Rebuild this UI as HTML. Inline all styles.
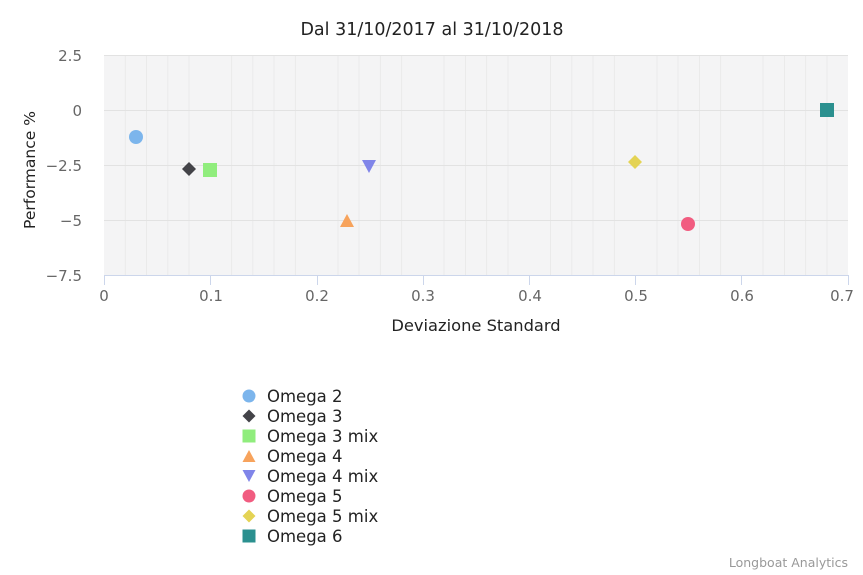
<!DOCTYPE html>
<html><head><style>body{margin:0;background:#fff}svg{display:block}text{font-family:"DejaVu Sans","Liberation Sans",sans-serif}</style></head><body>
<svg width="863" height="575" xmlns="http://www.w3.org/2000/svg">
<rect x="104" y="55" width="744" height="220" fill="#f4f4f5"/>
<g stroke="#eaeaea" stroke-width="1">
<line x1="125.3" y1="55" x2="125.3" y2="275"/><line x1="146.5" y1="55" x2="146.5" y2="275"/><line x1="167.8" y1="55" x2="167.8" y2="275"/><line x1="189" y1="55" x2="189" y2="275"/>
<line x1="231.6" y1="55" x2="231.6" y2="275"/><line x1="252.8" y1="55" x2="252.8" y2="275"/><line x1="274" y1="55" x2="274" y2="275"/><line x1="295.4" y1="55" x2="295.4" y2="275"/>
<line x1="338" y1="55" x2="338" y2="275"/><line x1="359" y1="55" x2="359" y2="275"/><line x1="380.4" y1="55" x2="380.4" y2="275"/><line x1="401.6" y1="55" x2="401.6" y2="275"/>
<line x1="444" y1="55" x2="444" y2="275"/><line x1="465.5" y1="55" x2="465.5" y2="275"/><line x1="486.6" y1="55" x2="486.6" y2="275"/><line x1="508" y1="55" x2="508" y2="275"/>
<line x1="550.5" y1="55" x2="550.5" y2="275"/><line x1="571.8" y1="55" x2="571.8" y2="275"/><line x1="593" y1="55" x2="593" y2="275"/><line x1="614.4" y1="55" x2="614.4" y2="275"/>
<line x1="657" y1="55" x2="657" y2="275"/><line x1="678" y1="55" x2="678" y2="275"/><line x1="699.5" y1="55" x2="699.5" y2="275"/><line x1="720.6" y1="55" x2="720.6" y2="275"/>
<line x1="763" y1="55" x2="763" y2="275"/><line x1="784.5" y1="55" x2="784.5" y2="275"/><line x1="805.6" y1="55" x2="805.6" y2="275"/><line x1="827" y1="55" x2="827" y2="275"/>
</g>
<g stroke="#e2e2e2" stroke-width="1">
<line x1="104" y1="55.5" x2="848" y2="55.5"/><line x1="104" y1="110.5" x2="848" y2="110.5"/><line x1="104" y1="165.5" x2="848" y2="165.5"/><line x1="104" y1="220.5" x2="848" y2="220.5"/>
</g>
<g stroke="#ccd6eb" stroke-width="1">
<line x1="104" y1="275.5" x2="848" y2="275.5"/>
<line x1="104.5" y1="275" x2="104.5" y2="285"/><line x1="210.5" y1="275" x2="210.5" y2="285"/><line x1="317.5" y1="275" x2="317.5" y2="285"/><line x1="423.5" y1="275" x2="423.5" y2="285"/><line x1="529.5" y1="275" x2="529.5" y2="285"/><line x1="635.5" y1="275" x2="635.5" y2="285"/><line x1="741.5" y1="275" x2="741.5" y2="285"/><line x1="848.5" y1="275" x2="848.5" y2="285"/>
</g>
<g fill="#666" font-size="15" text-anchor="middle">
<text x="104" y="301">0</text><text x="211" y="301">0.1</text><text x="317" y="301">0.2</text><text x="423" y="301">0.3</text><text x="530" y="301">0.4</text><text x="636" y="301">0.5</text><text x="742" y="301">0.6</text><text x="842" y="301">0.7</text>
</g>
<g fill="#666" font-size="15" text-anchor="end">
<text x="82" y="61">2.5</text><text x="82" y="116">0</text><text x="82" y="171">−2.5</text><text x="82" y="226">−5</text><text x="82" y="281">−7.5</text>
</g>
<text x="432" y="35" font-size="17.5" text-anchor="middle" fill="#222">Dal 31/10/2017 al 31/10/2018</text>
<text x="476" y="331" font-size="16.3" text-anchor="middle" fill="#222">Deviazione Standard</text>
<text transform="translate(35,170) rotate(-90)" font-size="15.5" text-anchor="middle" fill="#222">Performance %</text>
<circle cx="136" cy="137" r="7" fill="#7cb5ec"/>
<path d="M189 162 L196 169 L189 176 L182 169Z" fill="#434348"/>
<rect x="203" y="163" width="14" height="14" fill="#90ed7d"/>
<path d="M347 214 L354 227 L340 227Z" fill="#f7a35c"/>
<path d="M362 160 L376 160 L369 173Z" fill="#8085e9"/>
<circle cx="688" cy="224" r="7" fill="#f15c80"/>
<path d="M635 155 L642 162 L635 169 L628 162Z" fill="#e4d354"/>
<rect x="820" y="103" width="14" height="14" fill="#2b908f"/>
<g font-size="16.5" fill="#222">
<circle cx="249" cy="396" r="6.5" fill="#7cb5ec"/><text x="267" y="402">Omega 2</text>
<path d="M249 409.5 L255.5 416 L249 422.5 L242.5 416Z" fill="#434348"/><text x="267" y="422">Omega 3</text>
<rect x="242.5" y="429.5" width="13" height="13" fill="#90ed7d"/><text x="267" y="442">Omega 3 mix</text>
<path d="M249 450 L255.5 462 L242.5 462Z" fill="#f7a35c"/><text x="267" y="462">Omega 4</text>
<path d="M242.5 470 L255.5 470 L249 482Z" fill="#8085e9"/><text x="267" y="482">Omega 4 mix</text>
<circle cx="249" cy="496" r="6.5" fill="#f15c80"/><text x="267" y="502">Omega 5</text>
<path d="M249 509.5 L255.5 516 L249 522.5 L242.5 516Z" fill="#e4d354"/><text x="267" y="522">Omega 5 mix</text>
<rect x="242.5" y="529.5" width="13" height="13" fill="#2b908f"/><text x="267" y="542">Omega 6</text>
</g>
<text x="848" y="567" font-size="12.5" text-anchor="end" fill="#999">Longboat Analytics</text>
</svg>
</body></html>
